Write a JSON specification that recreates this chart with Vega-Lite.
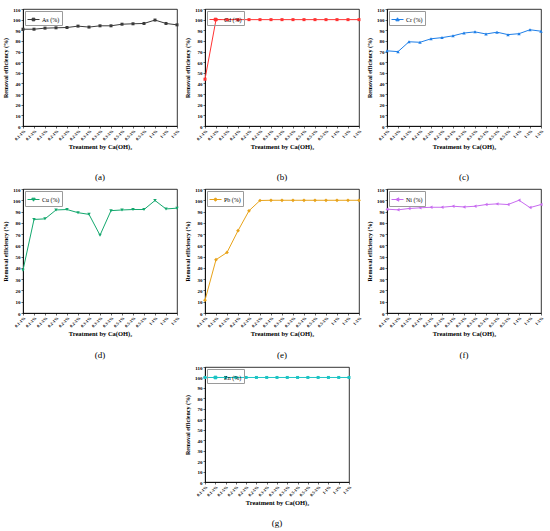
{
  "$schema": "https://vega.github.io/schema/vega-lite/v6.json",
  "description": "Removal efficiency of heavy metals by Ca(OH)2 treatment, seven panels.",
  "padding": {"left": 2, "top": 6, "right": 3, "bottom": 2},
  "columns": 3,
  "spacing": {"row": 4, "column": 3},
  "data": {
    "values": [
      {"metal": "As", "treatment": "0.1-1%", "value": 91.0},
      {"metal": "As", "treatment": "0.1-3%", "value": 91.0},
      {"metal": "As", "treatment": "0.1-5%", "value": 92.0},
      {"metal": "As", "treatment": "0.2-1%", "value": 92.3},
      {"metal": "As", "treatment": "0.2-3%", "value": 92.6},
      {"metal": "As", "treatment": "0.2-5%", "value": 93.9},
      {"metal": "As", "treatment": "0.3-1%", "value": 93.0},
      {"metal": "As", "treatment": "0.3-3%", "value": 94.2},
      {"metal": "As", "treatment": "0.3-5%", "value": 94.2},
      {"metal": "As", "treatment": "0.5-1%", "value": 95.7},
      {"metal": "As", "treatment": "0.5-3%", "value": 96.1},
      {"metal": "As", "treatment": "0.5-5%", "value": 96.4},
      {"metal": "As", "treatment": "1-1%", "value": 99.6},
      {"metal": "As", "treatment": "1-3%", "value": 96.4},
      {"metal": "As", "treatment": "1-5%", "value": 95.1},
      {"metal": "Cd", "treatment": "0.1-1%", "value": 44},
      {"metal": "Cd", "treatment": "0.1-3%", "value": 100},
      {"metal": "Cd", "treatment": "0.1-5%", "value": 100},
      {"metal": "Cd", "treatment": "0.2-1%", "value": 100},
      {"metal": "Cd", "treatment": "0.2-3%", "value": 100},
      {"metal": "Cd", "treatment": "0.2-5%", "value": 100},
      {"metal": "Cd", "treatment": "0.3-1%", "value": 100},
      {"metal": "Cd", "treatment": "0.3-3%", "value": 100},
      {"metal": "Cd", "treatment": "0.3-5%", "value": 100},
      {"metal": "Cd", "treatment": "0.5-1%", "value": 100},
      {"metal": "Cd", "treatment": "0.5-3%", "value": 100},
      {"metal": "Cd", "treatment": "0.5-5%", "value": 100},
      {"metal": "Cd", "treatment": "1-1%", "value": 100},
      {"metal": "Cd", "treatment": "1-3%", "value": 100},
      {"metal": "Cd", "treatment": "1-5%", "value": 100},
      {"metal": "Cr", "treatment": "0.1-1%", "value": 70.7},
      {"metal": "Cr", "treatment": "0.1-3%", "value": 69.9},
      {"metal": "Cr", "treatment": "0.1-5%", "value": 79.2},
      {"metal": "Cr", "treatment": "0.2-1%", "value": 78.7},
      {"metal": "Cr", "treatment": "0.2-3%", "value": 82.0},
      {"metal": "Cr", "treatment": "0.2-5%", "value": 83.1},
      {"metal": "Cr", "treatment": "0.3-1%", "value": 84.8},
      {"metal": "Cr", "treatment": "0.3-3%", "value": 87.4},
      {"metal": "Cr", "treatment": "0.3-5%", "value": 88.5},
      {"metal": "Cr", "treatment": "0.5-1%", "value": 86.5},
      {"metal": "Cr", "treatment": "0.5-3%", "value": 88.2},
      {"metal": "Cr", "treatment": "0.5-5%", "value": 85.9},
      {"metal": "Cr", "treatment": "1-1%", "value": 86.8},
      {"metal": "Cr", "treatment": "1-3%", "value": 90.5},
      {"metal": "Cr", "treatment": "1-5%", "value": 89.1},
      {"metal": "Cu", "treatment": "0.1-1%", "value": 38},
      {"metal": "Cu", "treatment": "0.1-3%", "value": 83.0},
      {"metal": "Cu", "treatment": "0.1-5%", "value": 83.5},
      {"metal": "Cu", "treatment": "0.2-1%", "value": 91.4},
      {"metal": "Cu", "treatment": "0.2-3%", "value": 91.8},
      {"metal": "Cu", "treatment": "0.2-5%", "value": 89.0},
      {"metal": "Cu", "treatment": "0.3-1%", "value": 87.5},
      {"metal": "Cu", "treatment": "0.3-3%", "value": 69.0},
      {"metal": "Cu", "treatment": "0.3-5%", "value": 90.8},
      {"metal": "Cu", "treatment": "0.5-1%", "value": 91.4},
      {"metal": "Cu", "treatment": "0.5-3%", "value": 91.8},
      {"metal": "Cu", "treatment": "0.5-5%", "value": 91.8},
      {"metal": "Cu", "treatment": "1-1%", "value": 99.8},
      {"metal": "Cu", "treatment": "1-3%", "value": 92.3},
      {"metal": "Cu", "treatment": "1-5%", "value": 93.0},
      {"metal": "Pb", "treatment": "0.1-1%", "value": 11.4},
      {"metal": "Pb", "treatment": "0.1-3%", "value": 47.3},
      {"metal": "Pb", "treatment": "0.1-5%", "value": 53.7},
      {"metal": "Pb", "treatment": "0.2-1%", "value": 73.0},
      {"metal": "Pb", "treatment": "0.2-3%", "value": 90.7},
      {"metal": "Pb", "treatment": "0.2-5%", "value": 99.8},
      {"metal": "Pb", "treatment": "0.3-1%", "value": 100},
      {"metal": "Pb", "treatment": "0.3-3%", "value": 100},
      {"metal": "Pb", "treatment": "0.3-5%", "value": 100},
      {"metal": "Pb", "treatment": "0.5-1%", "value": 100},
      {"metal": "Pb", "treatment": "0.5-3%", "value": 100},
      {"metal": "Pb", "treatment": "0.5-5%", "value": 100},
      {"metal": "Pb", "treatment": "1-1%", "value": 100},
      {"metal": "Pb", "treatment": "1-3%", "value": 100},
      {"metal": "Pb", "treatment": "1-5%", "value": 100},
      {"metal": "Ni", "treatment": "0.1-1%", "value": 92.1},
      {"metal": "Ni", "treatment": "0.1-3%", "value": 91.5},
      {"metal": "Ni", "treatment": "0.1-5%", "value": 92.7},
      {"metal": "Ni", "treatment": "0.2-1%", "value": 93.3},
      {"metal": "Ni", "treatment": "0.2-3%", "value": 93.8},
      {"metal": "Ni", "treatment": "0.2-5%", "value": 93.8},
      {"metal": "Ni", "treatment": "0.3-1%", "value": 94.7},
      {"metal": "Ni", "treatment": "0.3-3%", "value": 94.1},
      {"metal": "Ni", "treatment": "0.3-5%", "value": 94.7},
      {"metal": "Ni", "treatment": "0.5-1%", "value": 96.2},
      {"metal": "Ni", "treatment": "0.5-3%", "value": 96.8},
      {"metal": "Ni", "treatment": "0.5-5%", "value": 96.2},
      {"metal": "Ni", "treatment": "1-1%", "value": 100},
      {"metal": "Ni", "treatment": "1-3%", "value": 93.5},
      {"metal": "Ni", "treatment": "1-5%", "value": 96.2},
      {"metal": "Zn", "treatment": "0.1-1%", "value": 100},
      {"metal": "Zn", "treatment": "0.1-3%", "value": 100},
      {"metal": "Zn", "treatment": "0.1-5%", "value": 100},
      {"metal": "Zn", "treatment": "0.2-1%", "value": 100},
      {"metal": "Zn", "treatment": "0.2-3%", "value": 100},
      {"metal": "Zn", "treatment": "0.2-5%", "value": 100},
      {"metal": "Zn", "treatment": "0.3-1%", "value": 100},
      {"metal": "Zn", "treatment": "0.3-3%", "value": 100},
      {"metal": "Zn", "treatment": "0.3-5%", "value": 100},
      {"metal": "Zn", "treatment": "0.5-1%", "value": 100},
      {"metal": "Zn", "treatment": "0.5-3%", "value": 100},
      {"metal": "Zn", "treatment": "0.5-5%", "value": 100},
      {"metal": "Zn", "treatment": "1-1%", "value": 100},
      {"metal": "Zn", "treatment": "1-3%", "value": 100},
      {"metal": "Zn", "treatment": "1-5%", "value": 100}
    ]
  },
  "resolve": {"scale": {"color": "independent"}, "legend": {"color": "independent"}},
  "concat": [
    {
      "width": 154, "height": 117, "title": {"text": "(a)", "offset": 23},
      "transform": [{"filter": "datum.metal === 'As'"}],
      "encoding": {
        "x": {"field": "treatment", "type": "ordinal", "sort": null, "scale": {"padding": 0}, "axis": {"title": "Treatment by  Ca(OH)₂"}},
        "y": {"field": "value", "type": "quantitative", "scale": {"domain": [0, 110], "nice": false}, "axis": {"values": [0, 10, 20, 30, 40, 50, 60, 70, 80, 90, 100, 110], "title": "Removal efficiency (%)"}}
      },
      "layer": [
        {"mark": {"type": "line", "strokeWidth": 1},
         "encoding": {"color": {"field": "metal", "type": "nominal", "scale": {"range": ["#3a3a3a"]},
           "legend": {"title": null, "labelExpr": "datum.label + ' (%)'", "symbolType": "M-1,0H1M-0.22,-0.22H0.22V0.22H-0.22Z", "symbolFillColor": "#3a3a3a"}}}},
        {"mark": {"type": "point", "shape": "square", "filled": true, "size": 9, "color": "#3a3a3a", "opacity": 1}}
      ]
    },
    {
      "width": 154, "height": 117, "title": {"text": "(b)", "offset": 23},
      "transform": [{"filter": "datum.metal === 'Cd'"}],
      "encoding": {
        "x": {"field": "treatment", "type": "ordinal", "sort": null, "scale": {"padding": 0}, "axis": {"title": "Treatment by  Ca(OH)₂"}},
        "y": {"field": "value", "type": "quantitative", "scale": {"domain": [0, 110], "nice": false}, "axis": {"values": [0, 10, 20, 30, 40, 50, 60, 70, 80, 90, 100, 110], "title": "Removal efficiency (%)"}}
      },
      "layer": [
        {"mark": {"type": "line", "strokeWidth": 1},
         "encoding": {"color": {"field": "metal", "type": "nominal", "scale": {"range": ["#ff3333"]},
           "legend": {"title": null, "labelExpr": "datum.label + ' (%)'", "symbolType": "M-1,0H1M-0.22,-0.22H0.22V0.22H-0.22Z", "symbolFillColor": "#ff3333"}}}},
        {"mark": {"type": "point", "shape": "square", "filled": true, "size": 9, "color": "#ff3333", "opacity": 1}}
      ]
    },
    {
      "width": 154, "height": 117, "title": {"text": "(c)", "offset": 23},
      "transform": [{"filter": "datum.metal === 'Cr'"}],
      "encoding": {
        "x": {"field": "treatment", "type": "ordinal", "sort": null, "scale": {"padding": 0}, "axis": {"title": "Treatment by  Ca(OH)₂"}},
        "y": {"field": "value", "type": "quantitative", "scale": {"domain": [0, 110], "nice": false}, "axis": {"values": [0, 10, 20, 30, 40, 50, 60, 70, 80, 90, 100, 110], "title": "Removal efficiency (%)"}}
      },
      "layer": [
        {"mark": {"type": "line", "strokeWidth": 1},
         "encoding": {"color": {"field": "metal", "type": "nominal", "scale": {"range": ["#1f7fe8"]},
           "legend": {"title": null, "labelExpr": "datum.label + ' (%)'", "symbolType": "M-1,0H1M0,-0.28L0.28,0.22H-0.28Z", "symbolFillColor": "#1f7fe8"}}}},
        {"mark": {"type": "point", "shape": "triangle-up", "filled": true, "size": 12, "color": "#1f7fe8", "opacity": 1}}
      ]
    },
    {
      "width": 154, "height": 124, "title": {"text": "(d)", "offset": 14},
      "transform": [{"filter": "datum.metal === 'Cu'"}],
      "encoding": {
        "x": {"field": "treatment", "type": "ordinal", "sort": null, "scale": {"padding": 0}, "axis": {"title": "Treatment by  Ca(OH)₂"}},
        "y": {"field": "value", "type": "quantitative", "scale": {"domain": [0, 110], "nice": false}, "axis": {"values": [0, 10, 20, 30, 40, 50, 60, 70, 80, 90, 100, 110], "title": "Removal efficiency (%)"}}
      },
      "layer": [
        {"mark": {"type": "line", "strokeWidth": 1},
         "encoding": {"color": {"field": "metal", "type": "nominal", "scale": {"range": ["#14a86e"]},
           "legend": {"title": null, "labelExpr": "datum.label + ' (%)'", "symbolType": "M-1,0H1M0,0.28L0.28,-0.22H-0.28Z", "symbolFillColor": "#14a86e"}}}},
        {"mark": {"type": "point", "shape": "triangle-down", "filled": true, "size": 12, "color": "#14a86e", "opacity": 1}}
      ]
    },
    {
      "width": 154, "height": 124, "title": {"text": "(e)", "offset": 14},
      "transform": [{"filter": "datum.metal === 'Pb'"}],
      "encoding": {
        "x": {"field": "treatment", "type": "ordinal", "sort": null, "scale": {"padding": 0}, "axis": {"title": "Treatment by  Ca(OH)₂"}},
        "y": {"field": "value", "type": "quantitative", "scale": {"domain": [0, 110], "nice": false}, "axis": {"values": [0, 10, 20, 30, 40, 50, 60, 70, 80, 90, 100, 110], "title": "Removal efficiency (%)"}}
      },
      "layer": [
        {"mark": {"type": "line", "strokeWidth": 1},
         "encoding": {"color": {"field": "metal", "type": "nominal", "scale": {"range": ["#e8a31a"]},
           "legend": {"title": null, "labelExpr": "datum.label + ' (%)'", "symbolType": "M-1,0H1M0,-0.28L0.28,0L0,0.28L-0.28,0Z", "symbolFillColor": "#e8a31a"}}}},
        {"mark": {"type": "point", "shape": "diamond", "filled": true, "size": 14, "color": "#e8a31a", "opacity": 1}}
      ]
    },
    {
      "width": 154, "height": 124, "title": {"text": "(f)", "offset": 14},
      "transform": [{"filter": "datum.metal === 'Ni'"}],
      "encoding": {
        "x": {"field": "treatment", "type": "ordinal", "sort": null, "scale": {"padding": 0}, "axis": {"title": "Treatment by  Ca(OH)₂"}},
        "y": {"field": "value", "type": "quantitative", "scale": {"domain": [0, 110], "nice": false}, "axis": {"values": [0, 10, 20, 30, 40, 50, 60, 70, 80, 90, 100, 110], "title": "Removal efficiency (%)"}}
      },
      "layer": [
        {"mark": {"type": "line", "strokeWidth": 1},
         "encoding": {"color": {"field": "metal", "type": "nominal", "scale": {"range": ["#c86cf0"]},
           "legend": {"title": null, "labelExpr": "datum.label + ' (%)'", "symbolType": "M-1,0H1M-0.28,0L0.22,-0.28V0.28Z", "symbolFillColor": "#c86cf0"}}}},
        {"mark": {"type": "point", "shape": "triangle-left", "filled": true, "size": 12, "color": "#c86cf0", "opacity": 1}}
      ]
    },
    {
      "width": 154, "height": 115,
      "mark": {"type": "point", "opacity": 0},
      "encoding": {
        "x": {"field": "treatment", "type": "ordinal", "axis": null},
        "y": {"field": "value", "type": "quantitative", "axis": null}
      },
      "view": {"stroke": null}
    },
    {
      "width": 144, "height": 115, "title": {"text": "(g)", "offset": 13},
      "transform": [{"filter": "datum.metal === 'Zn'"}],
      "encoding": {
        "x": {"field": "treatment", "type": "ordinal", "sort": null, "scale": {"padding": 0}, "axis": {"title": "Treatment by  Ca(OH)₂"}},
        "y": {"field": "value", "type": "quantitative", "scale": {"domain": [0, 110], "nice": false}, "axis": {"values": [0, 10, 20, 30, 40, 50, 60, 70, 80, 90, 100, 110], "title": "Removal efficiency (%)"}}
      },
      "layer": [
        {"mark": {"type": "line", "strokeWidth": 1},
         "encoding": {"color": {"field": "metal", "type": "nominal", "scale": {"range": ["#1cc4c4"]},
           "legend": {"title": null, "labelExpr": "datum.label + ' (%)'", "symbolType": "M-1,0H1M-0.22,-0.22H0.22V0.22H-0.22Z", "symbolFillColor": "#1cc4c4"}}}},
        {"mark": {"type": "point", "shape": "square", "filled": true, "size": 9, "color": "#1cc4c4", "opacity": 1}}
      ]
    }
  ],
  "config": {
    "font": "Liberation Serif",
    "view": {"stroke": "#000000", "strokeWidth": 0.8},
    "axis": {
      "grid": false,
      "domainColor": "#000000", "domainWidth": 0.8,
      "tickColor": "#000000", "tickWidth": 0.6, "tickSize": 2,
      "labelColor": "#000000", "titleColor": "#000000",
      "labelFont": "Liberation Serif", "titleFont": "Liberation Serif",
      "labelFontWeight": "bold", "titleFontWeight": "bold"
    },
    "axisX": {"labelAngle": -45, "labelFontSize": 4.2, "labelPadding": 1, "titleFontSize": 6.5, "titlePadding": 2},
    "axisY": {"labelFontSize": 5, "labelPadding": 1, "titleFontSize": 6, "titlePadding": 4},
    "legend": {
      "orient": "top-left", "offset": 2, "padding": 2, "strokeColor": "#9a9a9a",
      "labelFont": "Liberation Serif", "labelFontSize": 6, "labelColor": "#000000", "labelOffset": 2,
      "symbolSize": 144, "symbolStrokeWidth": 1
    },
    "title": {"orient": "bottom", "frame": "group", "font": "Liberation Serif", "fontSize": 9, "fontWeight": "normal", "color": "#000000", "offset": 10}
  }
}
